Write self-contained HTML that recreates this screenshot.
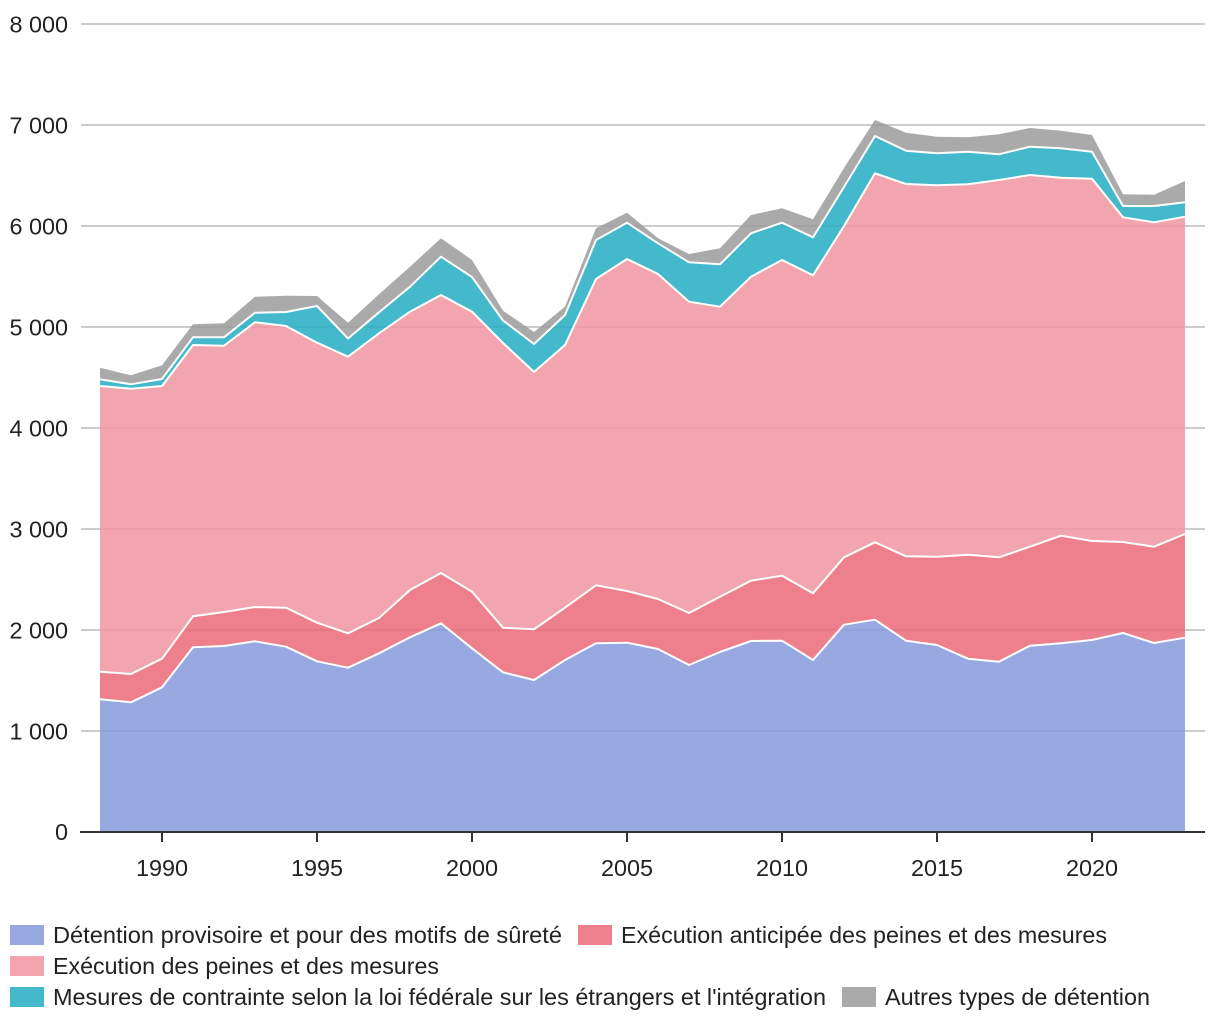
<!DOCTYPE html>
<html><head><meta charset="utf-8"><style>
html,body{margin:0;padding:0;background:#fff;}
svg{display:block;}
text{font-family:"Liberation Sans",Arial,sans-serif;fill:#222;}
</style></head><body>
<svg width="1220" height="1020" viewBox="0 0 1220 1020" xmlns="http://www.w3.org/2000/svg">
<g stroke="#cccccc" stroke-width="2">
<line x1="81" y1="24" x2="1205" y2="24"/>
<line x1="81" y1="125" x2="1205" y2="125"/>
<line x1="81" y1="226" x2="1205" y2="226"/>
<line x1="81" y1="327" x2="1205" y2="327"/>
<line x1="81" y1="428" x2="1205" y2="428"/>
<line x1="81" y1="529" x2="1205" y2="529"/>
<line x1="81" y1="630" x2="1205" y2="630"/>
<line x1="81" y1="731" x2="1205" y2="731"/>
</g>
<g id="areas"></g>
<g id="lines" fill="none" stroke="#fff" stroke-width="2" stroke-linejoin="round"></g>
<line x1="80" y1="832" x2="1205" y2="832" stroke="#333" stroke-width="2"/>
<g stroke="#333" stroke-width="2">
<line x1="162" y1="832" x2="162" y2="842"/>
<line x1="317" y1="832" x2="317" y2="842"/>
<line x1="472" y1="832" x2="472" y2="842"/>
<line x1="627" y1="832" x2="627" y2="842"/>
<line x1="782" y1="832" x2="782" y2="842"/>
<line x1="937" y1="832" x2="937" y2="842"/>
<line x1="1092" y1="832" x2="1092" y2="842"/>
</g>
<g font-size="23.4" text-anchor="end">
<text x="68" y="32.5">8 000</text>
<text x="68" y="133.5">7 000</text>
<text x="68" y="234.5">6 000</text>
<text x="68" y="335.5">5 000</text>
<text x="68" y="436.5">4 000</text>
<text x="68" y="537.5">3 000</text>
<text x="68" y="638.5">2 000</text>
<text x="68" y="739.5">1 000</text>
<text x="68" y="840">0</text>
</g>
<g font-size="23.4" text-anchor="middle">
<text x="162" y="876">1990</text>
<text x="317" y="876">1995</text>
<text x="472" y="876">2000</text>
<text x="627" y="876">2005</text>
<text x="782" y="876">2010</text>
<text x="937" y="876">2015</text>
<text x="1092" y="876">2020</text>
</g>
<rect x="10" y="925" width="34" height="20" fill="#97a9e0"/>
<text x="53" y="943" font-size="23.4" textLength="509" lengthAdjust="spacingAndGlyphs">Détention provisoire et pour des motifs de sûreté</text>
<rect x="578" y="925" width="34" height="20" fill="#ee808d"/>
<text x="621" y="943" font-size="23.4" textLength="486" lengthAdjust="spacingAndGlyphs">Exécution anticipée des peines et des mesures</text>
<rect x="10" y="956" width="34" height="20" fill="#f2a5ae"/>
<text x="53" y="974" font-size="23.4" textLength="386" lengthAdjust="spacingAndGlyphs">Exécution des peines et des mesures</text>
<rect x="10" y="987" width="34" height="20" fill="#43b9cb"/>
<text x="53" y="1005" font-size="23.4" textLength="773" lengthAdjust="spacingAndGlyphs">Mesures de contrainte selon la loi fédérale sur les étrangers et l'intégration</text>
<rect x="842" y="987" width="34" height="20" fill="#aaaaaa"/>
<text x="885" y="1005" font-size="23.4" textLength="265" lengthAdjust="spacingAndGlyphs">Autres types de détention</text>
</svg>
<script>
(function(){
var b=[699.3,702.3,687.3,647.3,646,641.3,646.7,661.3,667.7,653.3,637.3,623.3,648.3,672.3,680,660,643.3,642.7,649,665,652,641,640.7,660,624.7,619.7,640.7,645,658.7,661.7,645.7,643.3,640,633,643,637.7];
var r=[671.7,674,658.7,616.3,612,607,607.7,622.7,633.3,618,590,573,591.7,627.7,629.3,607.7,585.3,591,599,613,596.7,580.7,575.7,593.3,557.3,542.3,556.3,556.7,554.7,557.3,546.7,535.7,541,542,546.7,534];
var p=[386,388.7,386,345,345.7,322.3,326,342.7,356.7,333.3,311.7,295,311.7,343,372,345,279,259,274,301.7,306.7,276.7,260,275.3,226,173.3,184,185.3,184.3,180,175,177.7,178.7,217.3,222.3,216.7];
var t=[379.3,384.3,379,337.3,337.3,312.7,312,306,338.5,312.3,286.7,256.7,277,320.5,344,315,240,222.7,243.3,262.3,264.3,233.3,222.7,237.3,187,136,150.7,153.3,151.7,154.3,146.7,148.3,151.7,206,206,202.3];
var g=[367.7,375.3,365.3,324.3,323.3,296.7,295.7,296,322.7,294.3,266.7,238.3,260,310.7,332,306.7,228.3,212.7,238.3,254,248.3,215,208.3,219.3,168,120,132.7,136.7,137.3,134.3,128,130.7,135,194.3,194.7,181];
var base=[];for(var i=0;i<36;i++)base.push(831);
function X(i){return 100+31*i;}
function pts(a){var s=[];for(var i=0;i<a.length;i++)s.push(X(i)+','+a[i]);return s;}
function poly(top,bot,col){var s=pts(top);var q=pts(bot).reverse();return '<polygon points="'+s.concat(q).join(' ')+'" fill="'+col+'" fill-opacity="0.85"/>';}
var A=document.getElementById('areas');
A.innerHTML=poly(b,base,'rgb(133,154,219)')+poly(r,b,'rgb(235,106,121)')+poly(p,r,'rgb(240,149,160)')+poly(t,p,'rgb(34,173,194)')+poly(g,t,'rgb(155,155,155)');
var L=document.getElementById('lines');
L.innerHTML=[b,r,p,t].map(function(a){return '<polyline points="'+pts(a).join(' ')+'"/>';}).join('');
})();
</script>
</body></html>
